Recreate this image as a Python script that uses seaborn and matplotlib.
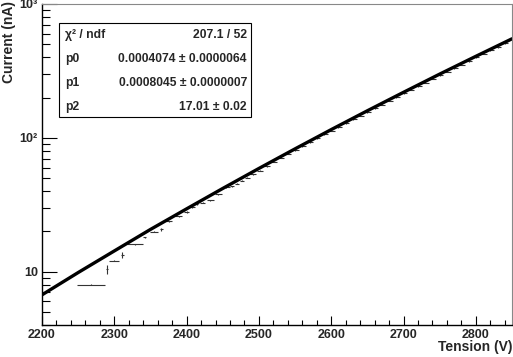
import numpy as np
import matplotlib
matplotlib.use("Agg")
import matplotlib.pyplot as plt
from matplotlib.patches import Rectangle
from matplotlib.ticker import FixedLocator, LogLocator, MultipleLocator, NullFormatter
import seaborn as sns

tension = [2268, 2290, 2300, 2311, 2328, 2342, 2355, 2365, 2375, 2389,
           2400, 2408, 2414, 2422, 2433, 2444, 2455,
           2463, 2470, 2477, 2484, 2492, 2502, 2511,
           2520, 2530, 2540, 2550, 2560, 2570, 2580, 2590, 2600, 2610,
           2620, 2630, 2640, 2650, 2660, 2670, 2680, 2690, 2700, 2710,
           2720, 2730, 2740, 2750, 2760, 2770, 2780, 2790, 2800, 2810,
           2820, 2830, 2840]
tension_err = [19, 1, 7, 2, 11, 2, 6, 2, 5, 5,
               3, 4, 2, 3, 5, 5, 5,
               3, 3, 3, 3, 4, 4, 4,
               5, 5, 5, 5, 5, 5, 5, 5, 5, 5,
               5, 5, 5, 5, 5, 5, 5, 5, 5, 5,
               5, 5, 5, 5, 5, 5, 5, 5, 5, 5,
               5, 5, 5]
current = [8.0, 10.4, 12.1, 13.4, 16.1, 18.1, 19.9, 20.7, 23.9, 26.0,
           27.9, 30.4, 31.9, 32.8, 34.2, 37.9, 42.6,
           43.5, 45.5, 48.0, 50.5, 53.5, 57.0, 61.5,
           66.5, 71.0, 76.0, 81.0, 87.0, 92.5, 99.0, 106, 113, 120.5,
           129, 137.5, 146.5, 156, 166.5, 177.5, 189, 201.5, 215, 229,
           243.5, 259, 276, 293.5, 312, 332, 353, 375.5, 399, 424,
           450, 478, 508]
current_err = [0.1, 0.8, 0.1, 0.75, 0.15, 0.2, 0.2, 0.4, 0.2, 0.3,
               0.5, 0.3, 0.6, 0.3, 0.3, 0.3, 0.4,
               0.4, 0.4, 0.5, 0.5, 0.5, 0.6, 0.6,
               0.7, 0.7, 0.8, 0.8, 0.9, 0.9, 1.0, 1.1, 1.1, 1.2,
               1.3, 1.4, 1.5, 1.6, 1.7, 1.8, 1.9, 2.0, 2.2, 2.3,
               2.4, 2.6, 2.8, 2.9, 3.1, 3.3, 3.5, 3.8, 4.0, 4.2,
               4.5, 4.8, 5.1]

# ---- fitted curve, read at 50 V steps ----
fit_tension = [2200, 2250, 2300, 2350, 2400, 2450, 2500, 2550,
               2600, 2650, 2700, 2750, 2800, 2850]
fit_current = [6.72, 9.86, 14.3, 20.7, 29.5, 41.9, 59.1, 82.8,
               115.3, 159.4, 219.0, 299.5, 406.6, 549.6]

# ---- stats box ----
stat_names = ["\u03c7\u00b2 / ndf", "p0", "p1", "p2"]
stat_values = ["207.1 / 52", "0.0004074 \u00b1 0.0000064",
               "0.0008045 \u00b1 0.0000007", "17.01 \u00b1 0.02"]

sns.set_style("ticks")
plt.rcParams['font.family'] = ['Liberation Sans', 'DejaVu Sans']
plt.rcParams['font.weight'] = 'bold'

fig = plt.figure(figsize=(5.13, 3.57), dpi=100)
ax = fig.add_axes([42 / 513, 1 - 325 / 357, 470 / 513, 321 / 357])

ax.errorbar(tension, current, xerr=tension_err, yerr=current_err,
            fmt='none', ecolor='#333333', elinewidth=0.8, capsize=0)
sns.lineplot(x=fit_tension, y=fit_current, ax=ax, color='black',
             linewidth=2.4, legend=False)

ax.set_yscale('log')
ax.set_xlim(2200, 2850)
ax.set_ylim(4, 1000)

ax.xaxis.set_major_locator(MultipleLocator(100))
ax.xaxis.set_minor_locator(MultipleLocator(20))
ax.yaxis.set_major_locator(FixedLocator([10, 100, 1000]))
ax.yaxis.set_minor_locator(LogLocator(base=10, subs=np.arange(2, 10)))
ax.yaxis.set_minor_formatter(NullFormatter())
ax.set_yticklabels(["10", "10\u00b2", "10\u00b3"])

ax.tick_params(axis='both', which='both', direction='in', top=False,
               right=False, labelsize=9, width=0.8, color='black')
ax.tick_params(axis='y', which='major', length=11, pad=3)
ax.tick_params(axis='y', which='minor', length=5.5)
ax.tick_params(axis='x', which='major', length=6.5, pad=3)
ax.tick_params(axis='x', which='minor', length=3.5)
for lab in ax.get_xticklabels() + ax.get_yticklabels():
    lab.set_fontweight('bold')

for side in ['left', 'bottom']:
    ax.spines[side].set_color('black')
    ax.spines[side].set_linewidth(1.0)
for side in ['top', 'right']:
    ax.spines[side].set_visible(True)
    ax.spines[side].set_color('#888888')
    ax.spines[side].set_linewidth(0.8)

fig.text(512 / 513, 1 - 351 / 357, "Tension (V)", ha='right', va='baseline',
         fontsize=10, fontweight='bold')
fig.text(2 / 513, 1 - 1 / 357, "Current (nA)", rotation=90, ha='left', va='top',
         fontsize=10, fontweight='bold')

# stats box
fig.patches.append(Rectangle((59 / 513, 1 - 117 / 357), 192 / 513, 94 / 357,
                             transform=fig.transFigure, facecolor='white',
                             edgecolor='black', linewidth=0.8, zorder=5))
row_y = [35, 59, 83, 107]
for name, val, yy in zip(stat_names, stat_values, row_y):
    fig.text(65 / 513, 1 - yy / 357, name, ha='left', va='center',
             fontsize=8.7, fontweight='bold', zorder=6)
    fig.text(247 / 513, 1 - yy / 357, val, ha='right', va='center',
             fontsize=8.7, fontweight='bold', zorder=6)

fig.savefig("out.png", dpi=100)
